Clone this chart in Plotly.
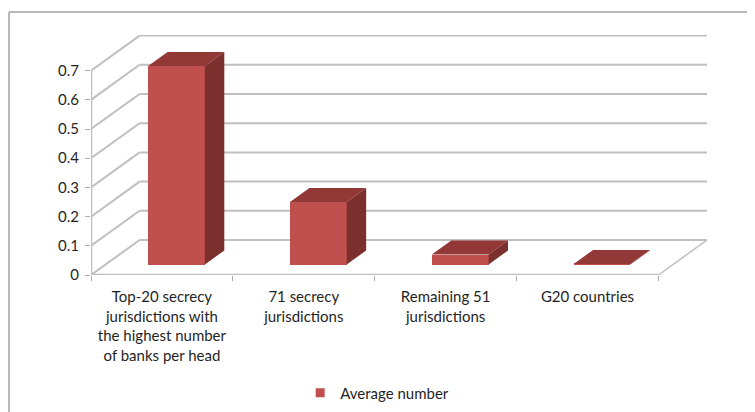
import plotly.graph_objects as go

categories = ["Top-20 secrecy<br>jurisdictions with<br>the highest number<br>of banks per head",
              "71 secrecy<br>jurisdictions",
              "Remaining 51<br>jurisdictions",
              "G20 countries"]
values = [0.68, 0.214, 0.034, 0.002]
y_ticks = [0, 0.1, 0.2, 0.3, 0.4, 0.5, 0.6, 0.7]
series_name = "Average number"

# oblique projection of the depth axis, in data units
DX, DY = 0.3425, 0.1199
D0, D1 = 0.3, 0.7
BAR_W = 0.4
X_MAX, Y_MAX = 4 + DX, 0.822

FRONT, TOP, SIDE = "#C0504D", "#923836", "#7C302E"
GRID = "#BFBFBF"
AXIS = "#ABABAB"
TEXT = "#1F1F1F"
FONT = "Lato"

# the page puts the figure 8 px in from the window's corner
PAGE = 8
W, H = 755 - PAGE, 412 - PAGE
L, R, T, B = 90.7 - PAGE, 48, 35 - PAGE, 137
PW, PH = W - L - R, H - T - B


def px(v):
    return (v - PAGE - L) / PW


def py(v):
    return (H - B - (v - PAGE)) / PH


fig = go.Figure()

centers = [i + 0.5 + D0 * DX for i in range(len(values))]
fig.add_trace(go.Bar(x=centers, y=values, base=[D0 * DY] * len(values), width=BAR_W,
                     marker=dict(color=FRONT, line=dict(width=0)), showlegend=False))

depth_x = (D1 - D0) * DX
depth_y = (D1 - D0) * DY
for c, v in zip(centers, values):
    x0, x1 = c - BAR_W / 2, c + BAR_W / 2
    y0, y1 = D0 * DY, D0 * DY + v
    fig.add_trace(go.Scatter(
        x=[x0, x1, x1 + depth_x, x0 + depth_x, x0],
        y=[y1, y1, y1 + depth_y, y1 + depth_y, y1],
        fill="toself", fillcolor=TOP, mode="none", showlegend=False, hoverinfo="skip"))
    fig.add_trace(go.Scatter(
        x=[x1, x1 + depth_x, x1 + depth_x, x1, x1],
        y=[y0, y0 + depth_y, y1 + depth_y, y1, y0],
        fill="toself", fillcolor=SIDE, mode="none", showlegend=False, hoverinfo="skip"))

fig.add_trace(go.Scatter(x=[None], y=[None], mode="markers", name=series_name,
                         marker=dict(symbol="square", size=9, color=FRONT)))

shapes = []


def seg(x0, y0, x1, y1, color=GRID, width=2):
    shapes.append(dict(type="line", xref="x", yref="y", x0=x0, y0=y0, x1=x1, y1=y1,
                       layer="below", line=dict(color=color, width=width)))


for t in y_ticks + [0.8]:
    seg(DX, t + DY, X_MAX, t + DY)
    if t < 0.8:
        seg(0, t, DX, t + DY)
seg(0, 0, 4, 0, width=2.5)
seg(0, 0, 0, 0.7, width=2.5)
seg(4, 0, X_MAX, DY, width=1.5)

# chart frame: only the top and left edges show in the picture
for a, b, c, d in [(8.7, 12, 760, 12), (8.7, 12, 8.7, 420)]:
    shapes.append(dict(type="line", xref="paper", yref="paper",
                       x0=px(a), y0=py(b), x1=px(c), y1=py(d), layer="below",
                       line=dict(color="#A0A0A0", width=1.5)))

fig.update_layout(
    width=W, height=H, autosize=False,
    margin=dict(l=L, r=R, t=T, b=B, pad=0, autoexpand=False),
    paper_bgcolor="white", plot_bgcolor="white",
    font=dict(family=FONT, size=15, color=TEXT),
    shapes=shapes, bargap=0,
    xaxis=dict(range=[0, X_MAX], tickmode="array",
               tickvals=[i + 0.5 for i in range(len(categories))], ticktext=categories,
               ticks="", showgrid=False, zeroline=False, showline=False, ticklabelstandoff=11,
               minor=dict(tickmode="array", tickvals=list(range(len(categories) + 1)),
                          ticks="outside", ticklen=5, tickcolor=AXIS, tickwidth=1, showgrid=False)),
    yaxis=dict(range=[0, Y_MAX], tickmode="array", tickvals=y_ticks,
               ticktext=[f"{t:g}" for t in y_ticks],
               ticks="outside", ticklen=5, tickcolor=AXIS, tickwidth=1, ticklabelstandoff=3,
               showgrid=False, zeroline=False, showline=False),
    showlegend=True,
    legend=dict(x=px(300), xanchor="left", y=py(393), yanchor="middle",
                bgcolor="rgba(0,0,0,0)", font=dict(family=FONT, size=15, color=TEXT)),
)

fig.write_html("out.html")
